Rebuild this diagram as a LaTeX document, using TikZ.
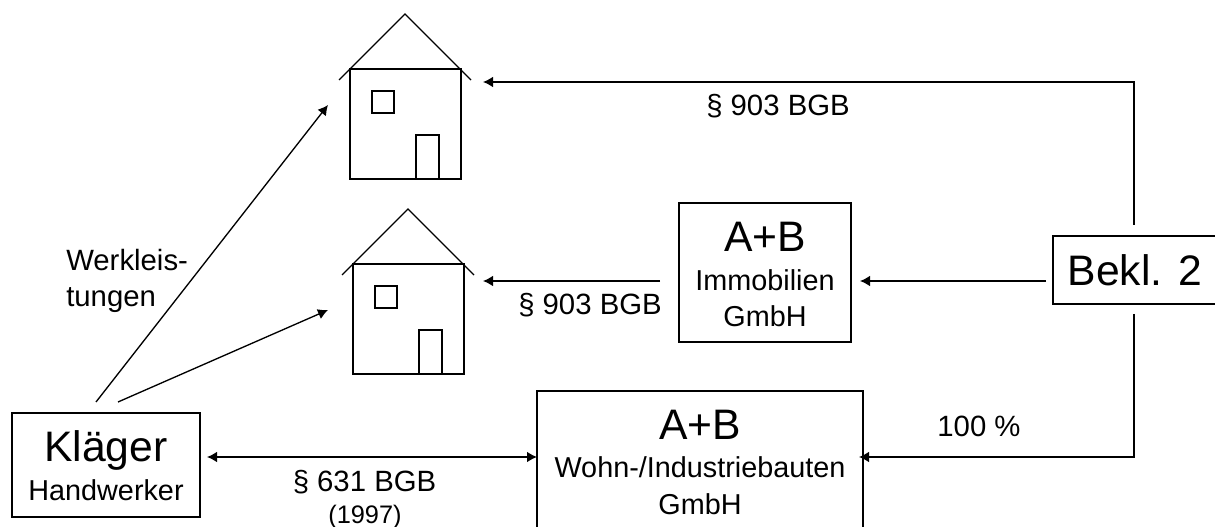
\documentclass[tikz,border=0pt]{standalone}
\usepackage{fontspec}
\setmainfont{Liberation Sans}
\usetikzlibrary{arrows.meta}
\tikzset{
  x=0.75pt,y=-0.75pt,
  lbox/.style={draw,line width=1.1pt,inner sep=0pt,outer sep=0pt},
  conn/.style={line width=1pt,-{Latex[length=7.5pt,width=8pt]}},
  connb/.style={line width=1pt,{Latex[length=7.5pt,width=8pt]}-{Latex[length=7.5pt,width=8pt]}},
  housepart/.style={line width=1pt,line join=miter},
  big/.style={inner sep=0pt,anchor=base,font=\fontsize{32}{36}\selectfont},
  mid/.style={inner sep=0pt,anchor=base,font=\fontsize{21.6}{26}\selectfont},
  lab/.style={inner sep=0pt,anchor=base,font=\fontsize{22}{26}\selectfont},
}
\newcommand{\housedraw}[2]{%
  \begin{scope}[shift={(#1,#2)}]
    \draw[housepart] (350,69) rectangle (461,179);
    \draw[housepart] (339,80) -- (405,14) -- (471,80);
    \draw[housepart] (372,91) rectangle (394,113);
    \draw[housepart] (416,135) rectangle (439,179);
  \end{scope}}
\begin{document}
\begin{tikzpicture}
\useasboundingbox (0,0) rectangle (1215,527);
\clip (0,0) rectangle (1215,527);
\housedraw{0}{0}
\housedraw{3}{195}

\node[lbox,minimum width=141pt,minimum height=78pt] (klaeger) at (106,465) {};
\node[big] (klt) at (106,462) {Kläger};
\node[mid] (klh) at (106,500) {Handwerker};

\node[lbox,minimum width=122.25pt,minimum height=51pt] (bekl) at (1134.5,270) {};
\node[big] (bekt) at (1135,286) {Bekl. 2};

\node[lbox,minimum width=129pt,minimum height=104.25pt] (immo) at (765,272.5) {};
\node[big] (immoa) at (765,252) {A+B};
\node[mid] (immot) at (765,291) {Immobilien};
\node[mid] (immog) at (765,327) {GmbH};

\node[lbox,minimum width=244.5pt,minimum height=120pt] (wohn) at (700,471) {};
\node[big] (wohna) at (700,440) {A+B};
\node[mid] (wohnt) at (700,478) {Wohn-/Industriebauten};
\node[mid] (wohng) at (700,514) {GmbH};

\coordinate (h1w) at (328,105);
\coordinate (h2w) at (328,310);
\coordinate (kl1) at (96,402);
\coordinate (kl2) at (118,402);
\coordinate (h1e) at (483,82);
\coordinate (h2e) at (483,281);
\coordinate (cnr1) at (1134,82);
\coordinate (cnr2) at (1134,457);
\coordinate (b1) at (1134,225);
\coordinate (b2) at (1134,314);
\coordinate (b3) at (1046,281);
\coordinate (i1) at (860,281);
\coordinate (i2) at (660,281);
\coordinate (w1) at (859,457);
\coordinate (kr) at (207,457);

\draw[conn] (kl1) -- (h1w);
\draw[conn] (kl2) -- (h2w);
\draw[conn] (b1) -- (cnr1) -- (h1e);
\draw[conn] (i2) -- (h2e);
\draw[conn] (b3) -- (i1);
\draw[conn] (b2) -- (cnr2) -- (w1);
\draw[connb] (kr) -- (wohn.west |- kr);

\node[lab] (l903a) at (778,116) {§ 903 BGB};
\node[lab] (l903b) at (590,315) {§ 903 BGB};
\node[lab] (l100) at (979,437) {100 \%};
\node[lab] (l631) at (364.5,492) {§ 631 BGB};
\node[inner sep=0pt,anchor=base,font=\fontsize{19}{22}\selectfont] (l1997) at (365,523) {(1997)};
\node[lab,anchor=base west] (lwerk) at (66,271) {Werkleis-};
\node[lab,anchor=base west] (lwerk2) at (66,307) {tungen};
\end{tikzpicture}
\end{document}
